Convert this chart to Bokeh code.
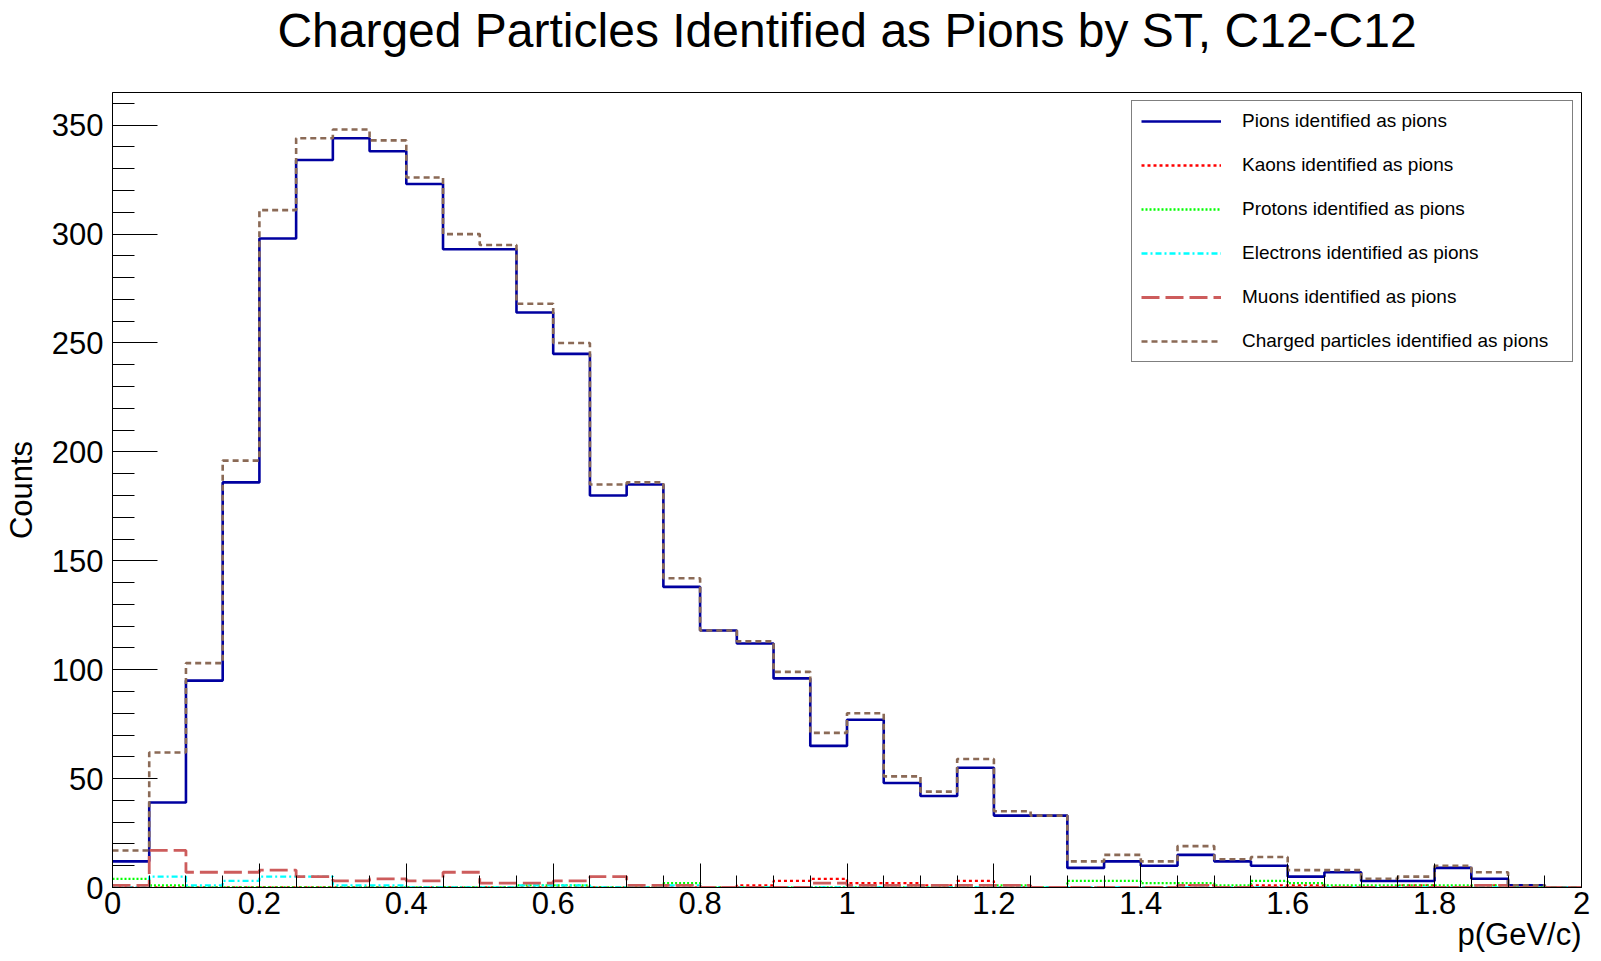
from bokeh.plotting import figure
from bokeh.models import Range1d, FixedTicker, Legend, LegendItem, LinearAxis, Title
from bokeh.embed import file_html
from bokeh.resources import INLINE

# ---------------- data (40 bins, 0 to 2 GeV/c, width 0.05) ----------------
bin_edges = [round(i * 0.05, 2) for i in range(41)]

pions = [12, 39, 95, 186, 298, 334, 344, 338, 323, 293,
         293, 264, 245, 180, 185, 138, 118, 112, 96, 65,
         77, 48, 42, 55, 33, 33, 9, 12, 10, 15,
         12, 10, 5, 7, 3, 3, 9, 4, 1, 0]
kaons = [0, 0, 0, 0, 0, 0, 0, 0, 0, 0,
         0, 0, 0, 0, 0, 0, 0, 1, 3, 4,
         2, 2, 1, 3, 0, 0, 0, 0, 0, 1,
         0, 1, 1, 0, 0, 1, 0, 1, 0, 0]
protons = [4, 1, 0, 0, 0, 0, 0, 0, 0, 0,
           0, 1, 1, 0, 0, 2, 0, 0, 0, 0,
           0, 0, 0, 0, 1, 0, 3, 3, 2, 2,
           1, 3, 2, 1, 1, 1, 1, 1, 0, 0]
electrons = [0, 5, 1, 3, 5, 5, 1, 1, 0, 0,
             0, 1, 1, 0, 0, 1, 0, 0, 0, 0,
             0, 0, 0, 0, 0, 0, 0, 0, 0, 0,
             0, 0, 0, 0, 0, 0, 0, 0, 0, 0]
muons = [1, 17, 7, 7, 8, 5, 3, 4, 3, 7,
         2, 2, 3, 5, 1, 1, 0, 0, 0, 2,
         1, 1, 1, 1, 1, 0, 0, 0, 0, 1,
         0, 0, 0, 0, 0, 0, 0, 1, 0, 0]
charged = [17, 62, 103, 196, 311, 344, 348, 343, 326, 300,
           295, 268, 250, 185, 186, 142, 118, 113, 99, 71,
           80, 51, 44, 59, 35, 33, 12, 15, 12, 19,
           13, 14, 8, 8, 4, 5, 10, 7, 1, 0]

series_labels = ["Pions identified as pions",
                 "Kaons identified as pions",
                 "Protons identified as pions",
                 "Electrons identified as pions",
                 "Muons identified as pions",
                 "Charged particles identified as pions"]

x_tick_values = [0, 0.2, 0.4, 0.6, 0.8, 1.0, 1.2, 1.4, 1.6, 1.8, 2.0]
x_tick_labels = ["0", "0.2", "0.4", "0.6", "0.8", "1", "1.2", "1.4", "1.6", "1.8", "2"]
y_tick_values = [0, 50, 100, 150, 200, 250, 300, 350]
y_minor_values = list(range(0, 370, 10))

title_text = "Charged Particles Identified as Pions by ST, C12-C12"
x_title = "p(GeV/c)"
y_title = "Counts"

FONT = "Liberation Sans"

# ---------------- figure ----------------
p = figure(width=1600, height=960, output_backend="svg", toolbar_location=None,
           title=None, x_range=Range1d(0, 2), y_range=Range1d(0, 365),
           min_border_left=106, min_border_right=19,
           min_border_top=90, min_border_bottom=73)
p.background_fill_color = "white"
p.border_fill_color = "white"
p.outline_line_color = "black"
p.outline_line_width = 1
p.xgrid.visible = False
p.ygrid.visible = False

xa = p.xaxis[0]
xa.ticker = FixedTicker(ticks=x_tick_values, minor_ticks=bin_edges)
xa.major_label_overrides = dict(zip(x_tick_values, x_tick_labels))
xa.major_tick_in = 24
xa.major_tick_out = 0
xa.minor_tick_in = 12
xa.minor_tick_out = 0
xa.major_label_standoff = 4
ya = p.yaxis[0]
ya.ticker = FixedTicker(ticks=y_tick_values, minor_ticks=y_minor_values)
ya.major_tick_in = 45
ya.major_tick_out = 0
ya.minor_tick_in = 22
ya.minor_tick_out = 0
ya.major_label_standoff = 9
for ax in (xa, ya):
    ax.axis_line_color = "black"
    ax.major_tick_line_color = "black"
    ax.minor_tick_line_color = "black"
    ax.major_label_text_font = FONT
    ax.major_label_text_font_size = "31px"
    ax.major_label_text_color = "black"


def label_axis(text, size, standoff):
    """An axis with no ticks, used only to carry a title outside the frame."""
    return LinearAxis(ticker=FixedTicker(ticks=[]), axis_line_color=None,
                      major_tick_line_color=None, minor_tick_line_color=None,
                      major_tick_in=0, major_tick_out=0, minor_tick_in=0, minor_tick_out=0,
                      major_label_standoff=0, axis_label=text, axis_label_standoff=standoff,
                      axis_label_text_font=FONT, axis_label_text_font_size=size,
                      axis_label_text_font_style="normal", axis_label_text_color="black")


p.add_layout(label_axis(title_text, "48px", 36), "above")
p.add_layout(label_axis(y_title, "31px", 10), "left")
p.add_layout(Title(text=x_title, align="right", vertical_align="top", standoff=0,
                   text_font=FONT, text_font_size="31px", text_font_style="normal",
                   text_color="black"), "below")


def stepy(vals):
    return list(vals) + [vals[-1]]


styles = [
    dict(line_color="#0000a0", line_width=2.6),
    dict(line_color="#ff0000", line_width=2.3, line_dash="3 3"),
    dict(line_color="#00ff00", line_width=2.3, line_dash="2 2"),
    dict(line_color="#00ffff", line_width=2.3, line_dash="6 3 2 3"),
    dict(line_color="#cd5c5c", line_width=2.8, line_dash="18 6"),
    dict(line_color="#8b6a56", line_width=2.6, line_dash="6 4"),
]
data_series = [pions, kaons, protons, electrons, muons, charged]
renderers = []
for vals, st in zip(data_series, styles):
    r = p.step(bin_edges, stepy(vals), mode="after", **st)
    renderers.append(r)

legend = Legend(items=[LegendItem(label=lab, renderers=[r]) for lab, r in zip(series_labels, renderers)],
                location="top_right", margin=8, padding=9, spacing=22,
                glyph_width=80, glyph_height=20, label_height=20, label_width=321,
                label_standoff=21, label_text_font=FONT, label_text_font_size="19px",
                label_text_color="black", border_line_color="black", border_line_width=1,
                background_fill_color="white", background_fill_alpha=1)
p.add_layout(legend)

open("out.html", "w").write(file_html(p, INLINE))
